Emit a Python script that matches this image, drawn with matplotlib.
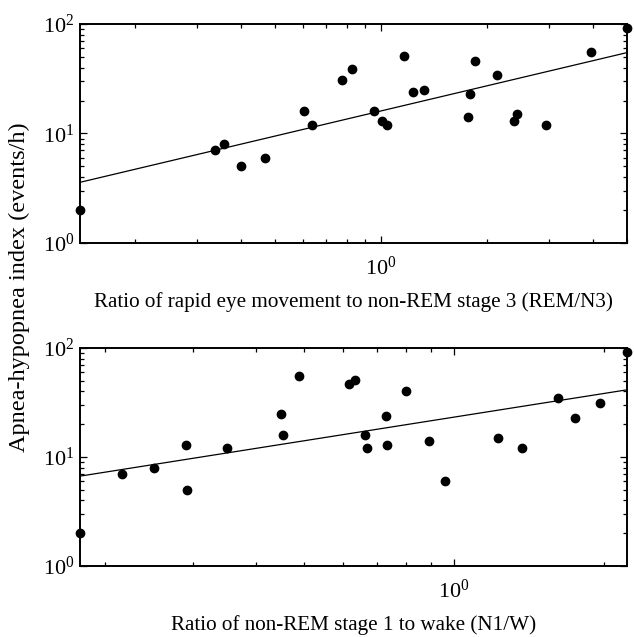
import numpy as np
import matplotlib
matplotlib.use("Agg")
import matplotlib.pyplot as plt
from matplotlib.ticker import LogLocator, NullFormatter

plt.rcParams['font.family'] = ['Liberation Serif', 'DejaVu Serif']
plt.rcParams['mathtext.fontset'] = 'custom'
plt.rcParams['mathtext.rm'] = 'Liberation Serif'
plt.rcParams['mathtext.it'] = 'Liberation Serif:italic'
plt.rcParams['mathtext.bf'] = 'Liberation Serif:bold'

# Panel 1: REM/N3 ratio vs AHI
rem_n3 = [0.14, 0.3375, 0.36, 0.40, 0.47, 0.606, 0.636, 0.775, 0.829, 0.955,
          1.01, 1.04, 1.167, 1.235, 1.33, 1.767, 1.786, 1.853, 2.135, 2.387,
          2.44, 2.95, 3.95, 5.0]
ahi_1 = [2, 7, 8, 5, 6, 16, 12, 31, 39, 16,
         13, 12, 51, 24, 25, 14, 23, 46, 34, 13,
         15, 12, 55, 92]

# Panel 2: N1/W ratio vs AHI
n1_w = [0.178, 0.216, 0.251, 0.29, 0.291, 0.351, 0.45, 0.454, 0.488, 0.616,
        0.633, 0.663, 0.669, 0.729, 0.734, 0.801, 0.889, 0.958, 1.227, 1.365,
        1.615, 1.75, 1.96, 2.22]
ahi_2 = [2, 7, 8, 13, 5, 12, 25, 16, 55, 47,
         51, 16, 12, 24, 13, 40, 14, 6, 15, 12,
         35, 23, 31, 92]

xlabels = ["Ratio of rapid eye movement to non-REM stage 3 (REM/N3)",
           "Ratio of non-REM stage 1 to wake (N1/W)"]
ylabel = "Apnea-hypopnea index (events/h)"

W, H = 634, 637
fig = plt.figure(figsize=(W / 100, H / 100), dpi=100)

def rect(l, r, t, b):
    return [l / W, (H - b) / H, (r - l) / W, (b - t) / H]

axes = [fig.add_axes(rect(80, 627, 24, 243)), fig.add_axes(rect(80, 627, 348, 566))]

for ax, x, y, xl in zip(axes, [rem_n3, n1_w], [ahi_1, ahi_2], xlabels):
    x = np.asarray(x, float)
    y = np.asarray(y, float)
    ax.set_xscale('log')
    ax.set_yscale('log')
    ax.plot(x, y, 'o', color='black', markersize=6, clip_on=False, zorder=3)
    b, a = np.polyfit(np.log10(x), np.log10(y), 1)
    xs = np.sort(x)
    ax.plot(xs, 10 ** (a + b * np.log10(xs)), '-', color='black', lw=0.9)
    ax.set_xlim(x.min(), x.max())
    ax.set_ylim(1, 100)
    ax.xaxis.set_major_locator(LogLocator(base=10))
    ax.xaxis.set_minor_locator(LogLocator(base=10, subs=np.arange(2, 10)))
    ax.yaxis.set_minor_locator(LogLocator(base=10, subs=np.arange(2, 10)))
    ax.xaxis.set_minor_formatter(NullFormatter())
    ax.yaxis.set_minor_formatter(NullFormatter())
    ax.tick_params(which='both', direction='in', top=True, right=True,
                   labelsize=16, width=0.9)
    ax.tick_params(axis='x', which='both', pad=10)
    ax.tick_params(axis='y', which='both', pad=4)
    ax.tick_params(which='major', length=5)
    ax.tick_params(which='minor', length=3)
    for lab in ax.get_yticklabels():
        lab.set_verticalalignment('center_baseline')
    for s in ax.spines.values():
        s.set_linewidth(1.4)
    ax.set_xlabel(xl, fontsize=15.2, labelpad=9)

fig.text(19 / W, 1 - 287.5 / H, ylabel, rotation=90, fontsize=17.5,
         ha='center', va='center')

fig.savefig('out.png', dpi=100)
